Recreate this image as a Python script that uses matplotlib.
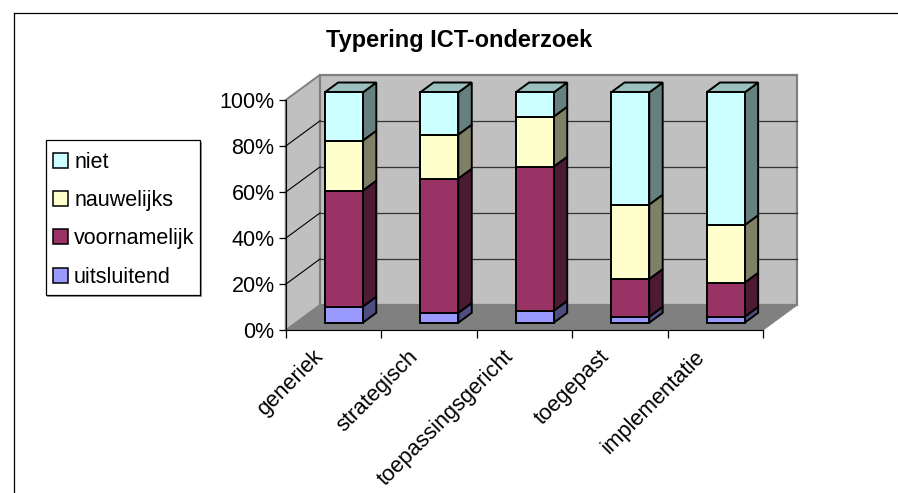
import matplotlib
matplotlib.use("Agg")
import matplotlib.pyplot as plt
from matplotlib.lines import Line2D
from matplotlib.patches import Patch, Polygon, Rectangle
from matplotlib.transforms import ScaledTranslation

plt.rcParams['font.family'] = ['Liberation Sans', 'DejaVu Sans']

categories = ['generiek', 'strategisch', 'toepassingsgericht', 'toegepast', 'implementatie']
uitsluitend = [7.0, 4.3, 5.2, 2.6, 2.6]
voornamelijk = [50.4, 58.3, 62.6, 16.4, 14.8]
nauwelijks = [21.7, 19.1, 21.7, 32.3, 25.0]
niet = [20.9, 18.3, 10.5, 48.7, 57.6]
y_ticks = [0, 20, 40, 60, 80, 100]

series = [('uitsluitend', uitsluitend, '#9999FF', '#4D4D80'),
          ('voornamelijk', voornamelijk, '#993366', '#4D1A33'),
          ('nauwelijks', nauwelijks, '#FFFFCC', '#808066'),
          ('niet', niet, '#CCFFFF', '#668080')]

W, H = 898, 493
FS = 15.5
fig = plt.figure(figsize=(W / 100, H / 100), dpi=100)
ax = fig.add_axes([285.7 / W, 1 - 330.3 / H, 477.3 / W, 230.3 / H])
ax.set_xlim(0, len(categories))
ax.set_ylim(0, 100)

# oblique projection, depth 0 = front of the floor, 1 = back wall
DX, DY = 0.361, 11.0


def project(x, y, d):
    return (x + d * DX, y + d * DY)


def face(points, color, edge, lw, z):
    ax.add_patch(Polygon([project(*p) for p in points], closed=True, facecolor=color,
                         edgecolor=edge, linewidth=lw, zorder=z, clip_on=False,
                         joinstyle='miter'))


n = len(categories)
face([(0, 0, 0), (n, 0, 0), (n, 0, 1), (0, 0, 1)], '#808080', '#808080', 0.5, 1)
face([(0, 0, 0), (0, 100, 0), (0, 100, 1), (0, 0, 1)], '#C0C0C0', '#808080', 1.4, 1)
face([(0, 0, 1), (n, 0, 1), (n, 100, 1), (0, 100, 1)], '#C0C0C0', '#808080', 1.6, 1)

for t in y_ticks[1:-1]:
    xs, ys = zip(project(0, t, 0), project(0, t, 1), project(n, t, 1))
    ax.plot(xs[:2], ys[:2], color='black', lw=0.8, zorder=2, clip_on=False)
    ax.plot(xs[1:], ys[1:], color='#333333', lw=0.9, zorder=2, clip_on=False)

# bars stand between these depths
D0, D1 = 0.30, 0.69
BW = 0.2
for i in range(n):
    cx = i + 0.5
    bottom = 0
    for name, vals, col, dark in series:
        top = bottom + vals[i]
        l, r = cx - BW, cx + BW
        face([(l, bottom, D0), (r, bottom, D0), (r, top, D0), (l, top, D0)], col, 'black', 1.4, 5)
        face([(r, bottom, D0), (r, bottom, D1), (r, top, D1), (r, top, D0)], dark, 'black', 1.4, 4)
        bottom = top
    face([(l, 100, D0), (r, 100, D0), (r, 100, D1), (l, 100, D1)], '#99BFBF', 'black', 1.4, 4)

for side in ['top', 'right']:
    ax.spines[side].set_visible(False)
ax.spines['left'].set_zorder(6)
ax.spines['bottom'].set_zorder(6)
ax.patch.set_visible(False)

ax.set_yticks(y_ticks)
ax.set_yticklabels([f'{t}%' for t in y_ticks], fontsize=FS, color='black')
ax.tick_params(axis='y', length=5, width=0.9, pad=3)
ax.set_xticks(range(n + 1))
ax.set_xticklabels([])
ax.tick_params(axis='x', which='major', length=6, width=0.9)
ax.set_xticks([i + 0.5 for i in range(n)], minor=True)
labels = ax.set_xticklabels(categories, minor=True, rotation=45, ha='right', va='top',
                            rotation_mode='anchor', fontsize=15.8)
ax.tick_params(axis='x', which='minor', length=0, pad=10)
shift = ScaledTranslation(-21 / 100, -2 / 100, fig.dpi_scale_trans)
for lab in labels:
    lab.set_transform(lab.get_transform() + shift)

fig.text(459.5 / W, 1 - 41 / H, 'Typering ICT-onderzoek', fontsize=16.9, fontweight='bold',
         ha='center', va='center')

# legend box drawn by hand so its size can match
fig.add_artist(Rectangle((47 / W, 1 - 296.5 / H), 154.5 / W, 155 / H, transform=fig.transFigure,
                         facecolor='#999999', edgecolor='none'))
fig.add_artist(Rectangle((45.5 / W, 1 - 295 / H), 154.5 / W, 155 / H, transform=fig.transFigure,
                         facecolor='white', edgecolor='black', linewidth=0.9))
handles = [Patch(facecolor=c, edgecolor='black', linewidth=1.1, label=name)
           for name, _, c, _ in reversed(series)]
leg = fig.legend(handles=handles, loc='upper left', bbox_to_anchor=(53 / W, 1 - 152 / H),
                 fontsize=FS, frameon=False, handlelength=0.7, handleheight=0.7,
                 handletextpad=0.28, labelspacing=0.80, borderpad=0, borderaxespad=0)

fig.add_artist(Line2D([13.5 / W, 13.5 / W], [0, 1 - 12.5 / H], color='black', lw=0.9))
fig.add_artist(Line2D([13.5 / W, 1], [1 - 12.5 / H, 1 - 12.5 / H], color='black', lw=0.9))

fig.savefig('out.png', dpi=100)
